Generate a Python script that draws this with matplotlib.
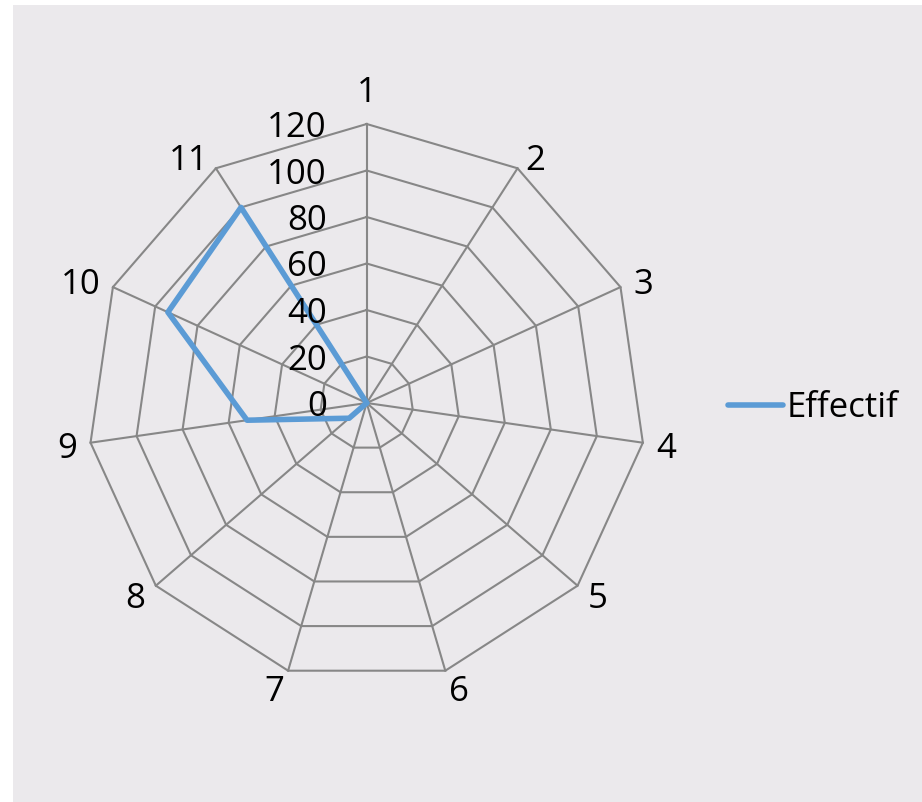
import numpy as np
import matplotlib
matplotlib.use("Agg")
import matplotlib.pyplot as plt
from matplotlib.patches import Rectangle

plt.rcParams['font.family'] = ['Open Sans', 'DejaVu Sans']

# Data
categories = ['1', '2', '3', '4', '5', '6', '7', '8', '9', '10', '11']
effectif = [0, 0, 0, 0, 0, 0, 0, 10, 52, 94, 100]
ring_values = [0, 20, 40, 60, 80, 100, 120]
series_name = 'Effectif'

W, H, DPI = 922, 802, 100
bg = '#EBE9EC'
grid_color = '#878787'
line_color = '#5B9BD5'
fs = 25

fig = plt.figure(figsize=(W / DPI, H / DPI), dpi=DPI, facecolor='white')
fig.patches.append(Rectangle((13 / W, 0), 1 - 13 / W, 1 - 5 / H,
                             transform=fig.transFigure, facecolor=bg,
                             edgecolor='none', zorder=-10))

# polar area: centre and outer radius in pixels
cx, cy, R = 366.7, 403.0, 279.0
ax = fig.add_axes([(cx - R) / W, (H - cy - R) / H, 2 * R / W, 2 * R / H],
                  projection='polar')
ax.set_facecolor('none')
ax.patch.set_visible(False)
ax.set_theta_zero_location('N')
ax.set_theta_direction(-1)
rmax = ring_values[-1]
ax.set_ylim(0, rmax)
ax.grid(False)
ax.set_xticks([])
ax.set_yticks([])
ax.spines['polar'].set_visible(False)

n = len(categories)
theta = np.arange(n) * 2 * np.pi / n
theta_closed = np.append(theta, theta[0])

# polygon rings
for v in ring_values[1:]:
    ax.plot(theta_closed, [v] * (n + 1), color=grid_color, lw=1.5, zorder=1,
            clip_on=False)
# spokes
for t in theta:
    ax.plot([t, t], [0, rmax], color=grid_color, lw=1.5, zorder=1, clip_on=False)

# series
vals = np.append(effectif, effectif[0])
line, = ax.plot(theta_closed, vals, color=line_color, lw=4.0, zorder=3,
                solid_joinstyle='round', solid_capstyle='round', clip_on=False,
                label=series_name)

# radial value labels, to the left of the first spoke
px2pt = 72 / DPI
for v in ring_values:
    ax.annotate(str(v), xy=(0, v), xytext=(-40 * px2pt, -4 * px2pt),
                textcoords='offset points', ha='right', va='center',
                fontsize=fs, color='black', annotation_clip=False)

# category labels just outside the outer ring
pad = 14
for t, lab in zip(theta, categories):
    ux, uy = np.sin(t), np.cos(t)
    dy = pad * uy
    if abs(ux) < 0.05:
        ha, va = 'center', 'bottom'
    else:
        ha = 'left' if ux > 0 else 'right'
        va = 'center'
        dy -= 4
        if uy < -0.9:
            dy -= 4
    ax.annotate(lab, xy=(t, rmax), xytext=(pad * ux * px2pt, dy * px2pt),
                textcoords='offset points', ha=ha, va=va, fontsize=fs,
                color='black', annotation_clip=False)

fig.legend(handles=[line], loc='center left',
           bbox_to_anchor=(728 / W, 1 - 408 / H), frameon=False,
           fontsize=fs, handlelength=1.58, handletextpad=0.12,
           borderpad=0, borderaxespad=0)

fig.savefig('out.png', dpi=DPI, facecolor='white')
